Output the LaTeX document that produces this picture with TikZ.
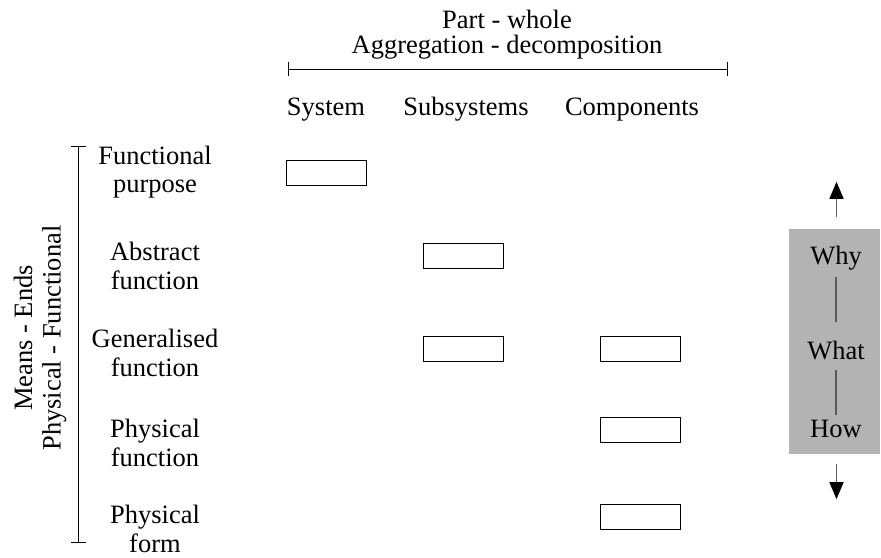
\documentclass[tikz,border=0pt]{standalone}
\usepackage{fontspec}
\setmainfont{Liberation Serif}
\usetikzlibrary{arrows.meta}
\definecolor{panelgrey}{HTML}{B3B3B3}
\definecolor{linkgrey}{HTML}{5A5A5A}
\begin{document}
\begin{tikzpicture}[x=1pt,y=-1pt,
  txt/.style={align=center, inner sep=0pt, font=\fontsize{26.5}{28.5}\selectfont},
  head/.style={align=center, inner sep=0pt, font=\fontsize{26.5}{25}\selectfont},
  cell/.style={draw, line width=1pt, minimum width=80pt, minimum height=25pt, inner sep=0pt},
  bar/.style={line width=1pt},
  qword/.style={txt, text height=18pt, text depth=6pt},
  qline/.style={draw=linkgrey, line width=1.2pt},
  qarrow/.style={draw=linkgrey, line width=1.5pt, -{Triangle[width=14pt,length=17pt,black]}}]
\useasboundingbox (0,0) rectangle (881,557);

% part-whole scale along the top
\node[head] (title) at (507,35) {Part - whole\\Aggregation - decomposition};
\coordinate (pwL) at (288,69);
\coordinate (pwR) at (727,69);
\draw[bar] (pwL) -- (pwR);
\draw[bar] ([yshift=7pt]pwL) -- ([yshift=-7pt]pwL);
\draw[bar] ([yshift=7pt]pwR) -- ([yshift=-7pt]pwR);

% column headings
\node[txt, anchor=base] (sys) at (326,115.5) {System};
\node[txt, anchor=base] (sub) at (466,115.5) {Subsystems};
\node[txt, anchor=base] (comp) at (632,115.5) {Components};

% means-ends scale on the left
\coordinate (meT) at (78.5,146);
\coordinate (meB) at (78.5,542);
\draw[bar] (meT) -- (meB);
\draw[bar] ([xshift=-7.5pt]meT) -- ([xshift=7.5pt]meT);
\draw[bar] ([xshift=-7.5pt]meB) -- ([xshift=7.5pt]meB);
\node[txt, rotate=90] (me) at (40,338) {Means - Ends\\Physical - Functional};

% abstraction levels
\node[txt] (fp) at (155,172) {Functional\\purpose};
\node[txt] (af) at (155,266) {Abstract\\function};
\node[txt] (gf) at (155,353) {Generalised\\function};
\node[txt] (pf) at (155,443) {Physical\\function};
\node[txt] (pform) at (155,529) {Physical\\form};

% cells of the hierarchy
\node[cell] (c1) at (326.7,173) {};
\node[cell] (c2) at (463,256) {};
\node[cell] (c3) at (463,349) {};
\node[cell] (c4) at (640.5,349) {};
\node[cell] (c5) at (640.5,430) {};
\node[cell] (c6) at (640.5,517) {};

% why / what / how panel
\node[fill=panelgrey, minimum width=91pt, minimum height=225pt, inner sep=0pt] (gbox) at (834.5,341.5) {};
\node[qword] (why) at (836,258) {Why};
\node[qword] (what) at (836,353) {What};
\node[qword] (how) at (836,431) {How};
\draw[qline] ([yshift=-7pt]why.south) -- ([yshift=19pt]what.north);
\draw[qline] ([yshift=-5pt]what.south) -- ([yshift=4pt]how.north);
\coordinate (upS) at ([xshift=2pt,yshift=12pt]gbox.north);
\coordinate (upE) at ([xshift=2pt,yshift=47pt]gbox.north);
\coordinate (dnS) at ([xshift=2pt,yshift=-10pt]gbox.south);
\coordinate (dnE) at ([xshift=2pt,yshift=-45pt]gbox.south);
\draw[qarrow] (upS) -- (upE);
\draw[qarrow] (dnS) -- (dnE);
\end{tikzpicture}
\end{document}
